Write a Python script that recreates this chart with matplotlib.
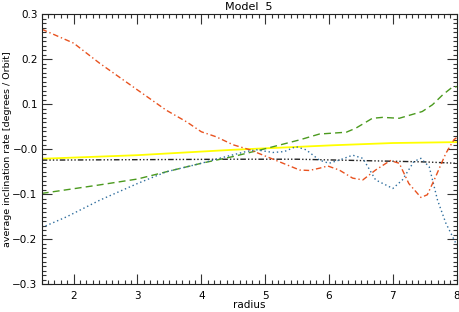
import matplotlib
matplotlib.use("Agg")
import matplotlib.pyplot as plt
from matplotlib.ticker import MultipleLocator, FixedLocator, FixedFormatter

# ---- data ----
orange_x = [1.5, 2.0, 2.41, 3.0, 3.45, 3.77, 4.0, 4.23, 4.5, 4.76, 5.02, 5.28, 5.54, 5.69,
            5.85, 5.98, 6.16, 6.37, 6.53, 6.73, 6.96, 7.1, 7.25, 7.44, 7.54, 7.67, 7.83, 7.96, 8.0]
orange_y = [0.267, 0.236, 0.191, 0.132, 0.087, 0.061, 0.039, 0.028, 0.010, -0.001, -0.016, -0.031,
            -0.046, -0.047, -0.042, -0.037, -0.046, -0.064, -0.068, -0.046, -0.025, -0.031, -0.076,
            -0.107, -0.101, -0.061, -0.009, 0.022, 0.026]

green_x = [1.5, 2.41, 3.0, 3.45, 4.0, 4.5, 5.02, 5.54, 5.85, 6.27, 6.42, 6.68, 6.84, 7.1,
           7.46, 7.62, 7.78, 7.93, 8.0]
green_y = [-0.098, -0.079, -0.066, -0.050, -0.031, -0.016, 0.002, 0.021, 0.034, 0.038, 0.047,
           0.069, 0.071, 0.069, 0.084, 0.099, 0.121, 0.138, 0.139]

blue_x = [1.5, 1.89, 2.41, 3.0, 3.45, 4.0, 4.39, 4.7, 4.86, 5.12, 5.3, 5.48, 5.64, 5.85, 6.0,
          6.16, 6.37, 6.53, 6.73, 7.0, 7.15, 7.33, 7.44, 7.57, 7.7, 7.83, 7.96, 8.0]
blue_y = [-0.174, -0.150, -0.113, -0.076, -0.050, -0.031, -0.016, -0.005, -0.001, -0.007, -0.005,
          0.006, -0.001, -0.024, -0.031, -0.024, -0.013, -0.020, -0.068, -0.087, -0.068, -0.027,
          -0.020, -0.039, -0.113, -0.164, -0.201, -0.213]

black_x = [1.5, 3.0, 4.5, 5.5, 6.5, 7.5, 8.0]
black_y = [-0.024, -0.023, -0.022, -0.022, -0.025, -0.028, -0.031]

yellow_x = [1.5, 3.0, 4.5, 6.06, 7.0, 8.0]
yellow_y = [-0.021, -0.013, -0.001, 0.009, 0.014, 0.016]

x_ticks = [2, 3, 4, 5, 6, 7, 8]
y_ticks = [-0.3, -0.2, -0.1, 0.0, 0.1, 0.2, 0.3]
y_tick_labels = ["\u22120.3", "\u22120.2", "\u22120.1", "\u22120.0", "0.1", "0.2", "0.3"]

# ---- figure ----
plt.rcParams['font.family'] = ['DejaVu Sans']
fig = plt.figure(figsize=(4.6, 3.12), dpi=100)
ax = fig.add_axes([0.0907, 0.0888, 0.9021, 0.8652])

lw = 1.0
ax.plot(yellow_x, yellow_y, color="#ffff00", lw=1.3, ls="-")
ax.plot(black_x, black_y, color="#222222", lw=lw, ls=(0, (4, 1.5, 1, 1.5, 1, 1.5, 1, 1.5)))
ax.plot(green_x, green_y, color="#4b9a1e", lw=lw, ls=(0, (5, 3)))
ax.plot(blue_x, blue_y, color="#2f6e9e", lw=lw, ls=(0, (1, 2)))
ax.plot(orange_x, orange_y, color="#e8521f", lw=lw, ls=(0, (4, 2, 1, 2)))

ax.set_xlim(1.5, 8)
ax.set_ylim(-0.3, 0.3)
ax.xaxis.set_major_locator(FixedLocator(x_ticks))
ax.xaxis.set_minor_locator(MultipleLocator(0.1))
ax.yaxis.set_major_locator(FixedLocator(y_ticks))
ax.yaxis.set_major_formatter(FixedFormatter(y_tick_labels))
ax.yaxis.set_minor_locator(MultipleLocator(0.01))

ax.tick_params(which="both", direction="in", top=True, right=True, color="#333333", labelsize=7.5,
               width=0.8)
ax.tick_params(which="major", length=7)
ax.tick_params(axis="x", which="major", pad=5)
ax.tick_params(axis="y", which="major", pad=3)
ax.tick_params(which="minor", length=3)
for s in ax.spines.values():
    s.set_linewidth(0.8)
    s.set_color("#222222")

ax.set_title("Model  5", fontsize=8, pad=3)
ax.set_xlabel("radius", fontsize=7.5, labelpad=-1)
ax.set_ylabel("average inclination rate [degrees / Orbit]", fontsize=6.8, labelpad=1)
ax.yaxis.set_label_coords(-0.072, 0.5)

fig.savefig("out.png", dpi=100)
